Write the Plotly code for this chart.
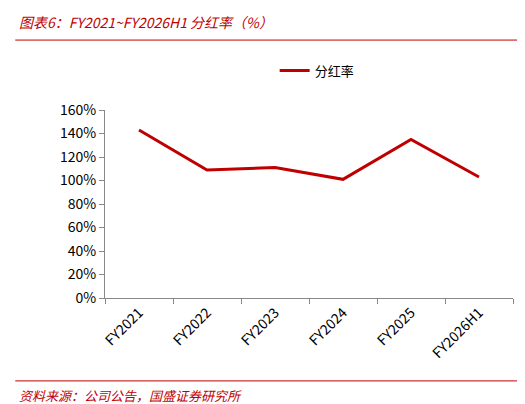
import plotly.graph_objects as go

categories = ['FY2021', 'FY2022', 'FY2023', 'FY2024', 'FY2025', 'FY2026H1']
payout = [1.43, 1.09, 1.11, 1.01, 1.35, 1.03]
tick_vals = [0, 0.2, 0.4, 0.6, 0.8, 1.0, 1.2, 1.4, 1.6]

fig = go.Figure()
fig.add_trace(go.Scatter(
    x=categories, y=payout, name='分红率', mode='lines',
    line=dict(color='#C00000', width=3),
))

fig.update_layout(
    width=525, height=404,
    margin=dict(l=97, r=20, t=102, b=114, autoexpand=False),
    paper_bgcolor='white', plot_bgcolor='white',
    font=dict(family='Noto Sans CJK SC', size=14, color='black'),
    showlegend=True,
    legend=dict(orientation='h', x=0.52, xanchor='center', y=0.845, yanchor='middle',
                yref='container', font=dict(size=13)),
    shapes=[
        dict(type='line', xref='paper', yref='paper', x0=-0.22, x1=1.04, y0=1.372, y1=1.372,
             line=dict(color='#C00000', width=1)),
        dict(type='line', xref='paper', yref='paper', x0=-0.22, x1=1.04, y0=-0.441, y1=-0.441,
             line=dict(color='#C00000', width=1)),
    ],
    annotations=[
        dict(text='<i>图表6：FY2021~FY2026H1 分红率（%）</i>', xref='paper', yref='paper',
             x=-0.215, y=1.468, xanchor='left', yanchor='middle', showarrow=False,
             font=dict(size=14, color='#C00000')),
        dict(text='<i>资料来源：公司公告，国盛证券研究所</i>', xref='paper', yref='paper',
             x=-0.215, y=-0.521, xanchor='left', yanchor='middle', showarrow=False,
             font=dict(size=13, color='#C00000')),
    ],
)
fig.update_xaxes(showline=True, linecolor='#888888', ticks='outside', ticklen=5,
                 tickcolor='#888888', tickangle=-45, showgrid=False,
                 tickson='boundaries', range=[-0.5, 5.5])
fig.update_yaxes(range=[0, 1.6], tickvals=tick_vals, tickformat='.0%', showline=True,
                 linecolor='#888888', ticks='outside', ticklen=5, tickcolor='#888888',
                 showgrid=False, zeroline=False)

fig.write_html('out.html')
